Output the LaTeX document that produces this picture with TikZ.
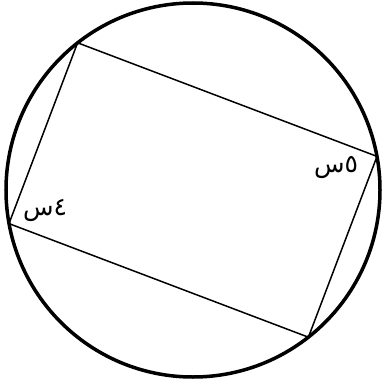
\documentclass[tikz,border=0pt]{standalone}
\usepackage{fontspec}
\newfontfamily\arabicfont[Script=Arabic]{DejaVu Sans}
\TeXXeTstate=1
\begin{document}
\begin{tikzpicture}[x=1pt,y=-1pt,
  rim/.style={line width=3.5pt},
  side/.style={line width=1.5pt, line join=round},
  lbl/.style={font=\arabicfont\fontsize{25}{28}\selectfont, inner sep=0pt}]
\useasboundingbox (0,0) rectangle (384,388);
\coordinate (O) at (193,190);
\draw[rim] (O) circle[radius=187];
\coordinate (tl) at (77.6,42.8);
\coordinate (r) at (377.0,156.4);
\coordinate (b) at (308.4,337.2);
\coordinate (l) at (9.0,223.6);
\draw[side] (tl) -- (r) -- (b) -- (l) -- cycle;
\node[lbl] (s5) at (336,168) {\beginR ٥س\endR};
\node[lbl] (s4) at (45,211) {\beginR ٤س\endR};
\end{tikzpicture}
\end{document}
